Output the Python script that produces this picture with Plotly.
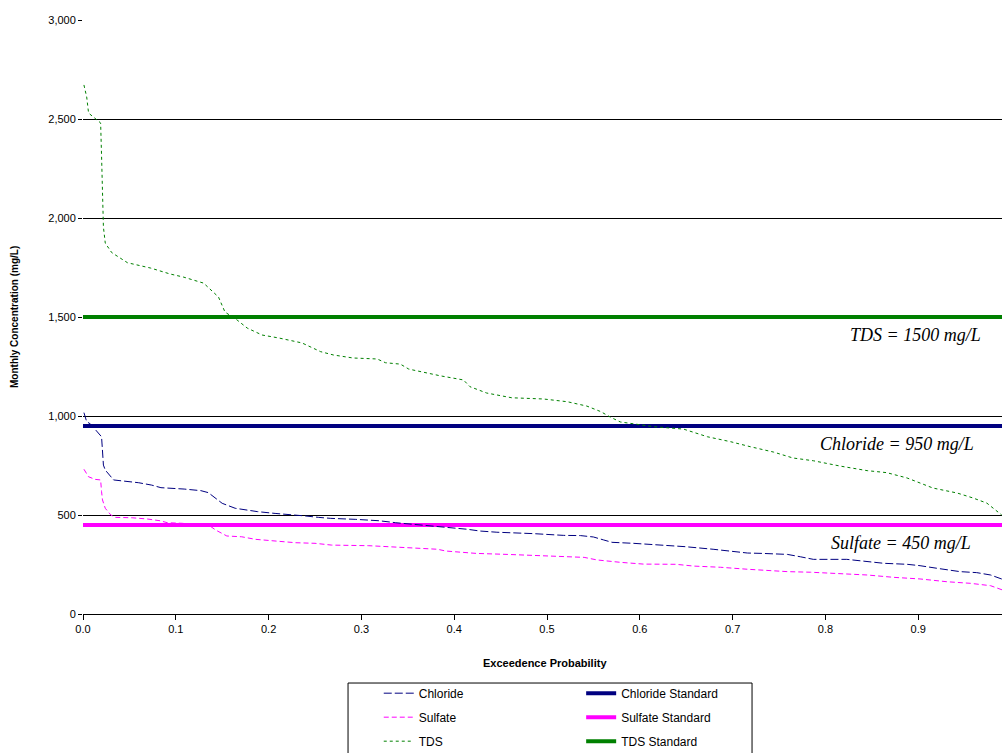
import plotly.graph_objects as go

# ---------------- data ----------------
tds_x = [0.001, 0.004, 0.006, 0.019, 0.020, 0.022, 0.024, 0.031, 0.048, 0.073,
         0.094, 0.108, 0.130, 0.146, 0.153, 0.166, 0.177, 0.193, 0.211, 0.236,
         0.256, 0.270, 0.291, 0.317, 0.326, 0.342, 0.351, 0.364, 0.385, 0.410,
         0.417, 0.435, 0.462, 0.496, 0.522, 0.543, 0.558, 0.568, 0.579, 0.615,
         0.647, 0.673, 0.698, 0.719, 0.744, 0.765, 0.787, 0.816, 0.845, 0.866,
         0.888, 0.916, 0.942, 0.959, 0.974, 0.990]
tds_y = [2672, 2611, 2530, 2480, 2313, 1954, 1873, 1825, 1774, 1747,
         1717, 1702, 1671, 1601, 1525, 1485, 1444, 1409, 1394, 1369,
         1325, 1308, 1293, 1288, 1269, 1262, 1237, 1224, 1203, 1182,
         1148, 1116, 1092, 1086, 1072, 1050, 1022, 995, 970, 946,
         934, 895, 870, 845, 818, 788, 774, 747, 724, 714,
         687, 636, 611, 586, 560, 500]

chloride_x = [0.001, 0.004, 0.008, 0.020, 0.022, 0.024, 0.033, 0.046, 0.060, 0.074,
              0.084, 0.109, 0.127, 0.135, 0.143, 0.150, 0.164, 0.179, 0.188, 0.207,
              0.222, 0.240, 0.254, 0.267, 0.294, 0.319, 0.337, 0.398, 0.414, 0.428,
              0.446, 0.485, 0.518, 0.536, 0.550, 0.561, 0.570, 0.593, 0.625, 0.649,
              0.679, 0.698, 0.716, 0.732, 0.759, 0.773, 0.787, 0.823, 0.843, 0.863,
              0.888, 0.902, 0.920, 0.945, 0.963, 0.978, 0.991]
chloride_y = [1017, 971, 960, 895, 752, 727, 677, 672, 663, 651,
              638, 631, 623, 613, 584, 559, 534, 522, 517, 508,
              503, 495, 488, 483, 478, 471, 461, 436, 428, 419,
              413, 406, 397, 396, 389, 374, 362, 357, 348, 340,
              327, 318, 308, 306, 301, 289, 276, 276, 266, 256,
              251, 244, 231, 214, 209, 197, 175]

sulfate_x = [0.001, 0.006, 0.013, 0.019, 0.020, 0.021, 0.024, 0.030, 0.035, 0.053,
             0.069, 0.083, 0.091, 0.107, 0.137, 0.143, 0.155, 0.171, 0.186, 0.211,
             0.229, 0.250, 0.268, 0.308, 0.329, 0.355, 0.382, 0.391, 0.407, 0.424,
             0.457, 0.507, 0.540, 0.554, 0.563, 0.579, 0.604, 0.639, 0.658, 0.687,
             0.716, 0.748, 0.759, 0.784, 0.820, 0.845, 0.874, 0.902, 0.931, 0.956,
             0.978, 0.991]
sulfate_y = [731, 693, 680, 677, 618, 576, 534, 500, 488, 486,
             480, 471, 461, 458, 444, 424, 394, 390, 377, 365,
             360, 357, 348, 345, 340, 332, 327, 318, 312, 306,
             301, 293, 286, 273, 268, 261, 252, 251, 242, 236,
             226, 217, 214, 211, 202, 197, 185, 177, 163, 155,
             143, 121]

standard_names = ["Chloride Standard", "Sulfate Standard", "TDS Standard"]
standard_values = [950, 450, 1500]
standard_labels = ["Chloride = 950 mg/L", "Sulfate = 450 mg/L", "TDS = 1500 mg/L"]
standard_span = [0.0, 1.0]

y_ticks = [0, 500, 1000, 1500, 2000, 2500, 3000]
grid_ticks = [500, 1000, 1500, 2000, 2500]
x_ticks = [0.0, 0.1, 0.2, 0.3, 0.4, 0.5, 0.6, 0.7, 0.8, 0.9]

# ---------------- styles ----------------
NAVY = "#000080"
MAGENTA = "#FF00FF"
GREEN = "#008000"
std_colors = [NAVY, MAGENTA, GREEN]
FONT = "Liberation Sans, Arial, sans-serif"

fig = go.Figure()

# standards (second legend)
for name, val, col in zip(standard_names, standard_values, std_colors):
    fig.add_trace(go.Scatter(
        x=standard_span, y=[val, val], mode="lines", name=name,
        line=dict(color=col, width=4), legend="legend2",
        legendgroup=name, hoverinfo="skip"))

# data series (first legend)
series = [("Chloride", chloride_x, chloride_y, NAVY, "8px,3px"),
          ("Sulfate", sulfate_x, sulfate_y, MAGENTA, "5px,3px"),
          ("TDS", tds_x, tds_y, GREEN, "3px,3px")]
for name, xs, ys, col, dash in series:
    fig.add_trace(go.Scatter(
        x=xs, y=ys, mode="lines", name=name,
        line=dict(color=col, width=1, dash=dash),
        legend="legend", legendgroup=name))

# grid-only overlay axis
fig.add_trace(go.Scatter(x=[None], y=[None], yaxis="y2", showlegend=False,
                         hoverinfo="skip"))

# standard labels
label_x = [0.877, 0.881, 0.897]
for txt, val, lx in zip(standard_labels, standard_values, label_x):
    fig.add_annotation(
        x=lx, y=val, xref="x", yref="y", text=txt, showarrow=False,
        yanchor="middle", yshift=-18,
        font=dict(family="Liberation Serif, Times New Roman, serif",
                  size=18, color="black", style="italic"))

# axis titles
fig.add_annotation(x=-0.0751, y=0.5, xref="paper", yref="paper",
                   text="<b>Monthly Concentration (mg/L)</b>", textangle=-90,
                   showarrow=False, xanchor="center", yanchor="middle",
                   font=dict(size=10, color="black"))
fig.add_annotation(x=0.5027, y=-0.0825, xref="paper", yref="paper",
                   text="<b>Exceedence Probability</b>",
                   showarrow=False, xanchor="center", yanchor="middle",
                   font=dict(size=11, color="black"))

# legend frame
fig.add_shape(type="rect", xref="paper", yref="paper",
              x0=0.2884, x1=0.728, y0=-0.26, y1=-0.1162,
              line=dict(color="black", width=1), fillcolor="rgba(0,0,0,0)")

YR = [0, 3000]
fig.update_layout(
    width=1002, height=753,
    margin=dict(l=83, r=0, t=20, b=139, autoexpand=False),
    paper_bgcolor="white", plot_bgcolor="white",
    font=dict(family=FONT, size=11, color="black"),
    xaxis=dict(range=[0, 0.9903], tickvals=x_ticks, tickformat=".1f",
               ticks="outside", ticklen=5, tickcolor="black",
               showline=True, linecolor="black", linewidth=1,
               showgrid=False, zeroline=False,
               tickfont=dict(size=11), automargin=False),
    yaxis=dict(range=YR, tickvals=y_ticks, tickformat=",d",
               ticks="outside", ticklen=4, tickcolor="black",
               showgrid=False, zeroline=False, showline=False,
               tickfont=dict(size=11), automargin=False),
    yaxis2=dict(range=YR, overlaying="y", tickvals=grid_ticks,
                showticklabels=False, showgrid=True, gridcolor="black",
                gridwidth=1, zeroline=False, ticks="", automargin=False),
    legend=dict(xref="container", yref="container", x=0.378, y=0.0987,
                xanchor="left", yanchor="top", tracegroupgap=5,
                font=dict(size=12), bgcolor="rgba(0,0,0,0)"),
    legend2=dict(xref="container", yref="container", x=0.580, y=0.0987,
                 xanchor="left", yanchor="top", tracegroupgap=5,
                 font=dict(size=12), bgcolor="rgba(0,0,0,0)"),
    showlegend=True,
)

fig.write_html("out.html",
               config={"displayModeBar": False},
               post_script="document.body.style.margin='0';"
                           "document.body.style.overflow='hidden';")
